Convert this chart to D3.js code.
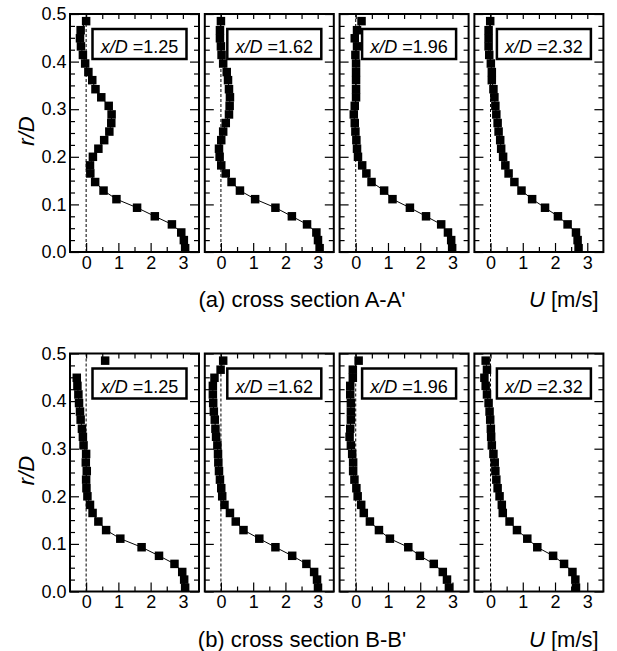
<!DOCTYPE html>
<html>
<head>
<meta charset="utf-8">
<script src="https://cdn.jsdelivr.net/npm/d3@7"></script>
<style>
  body { margin: 0; background: #fff; }
  svg { display: block; font-family: "Liberation Sans", Arial, sans-serif; }
</style>
</head>
<body>
<svg id="chart"></svg>
<script>
// radial measuring positions r/D (same grid in every panel)
const rPos = [0.485, 0.466, 0.449, 0.432, 0.414, 0.396, 0.378, 0.361, 0.342, 0.325,
  0.307, 0.289, 0.271, 0.253, 0.235, 0.217, 0.2, 0.182, 0.165, 0.147,
  0.129, 0.111, 0.093, 0.075, 0.058, 0.041, 0.025, 0.008];

// cross section A-A'
const uA1 = [0, -0.17, -0.19, -0.16, -0.1, -0.03, 0.07, 0.19, 0.29, 0.47, 0.7, 0.79, 0.78, 0.72,
  0.56, 0.38, 0.21, 0.12, 0.13, 0.28, 0.54, 0.94, 1.58, 2.13, 2.66, 2.95, 3.03, 3.07];
const uA2 = [0, -0.03, -0.03, 0, 0.02, 0.07, 0.18, 0.22, 0.25, 0.28, 0.27, 0.25, 0.15, 0.07,
  0.01, -0.06, -0.04, 0.01, 0.15, 0.33, 0.59, 1.06, 1.69, 2.2, 2.67, 2.96, 3.01, 3.06];
const uA3 = [0.18, 0.04, -0.03, 0.04, -0.01, 0.01, 0.01, 0.01, 0.01, 0.01, -0.03, -0.06, -0.03, -0.01,
  0.02, 0.04, 0.07, 0.2, 0.33, 0.49, 0.88, 1.14, 1.68, 2.18, 2.65, 2.86, 2.96, 2.99];
const uA4 = [-0.01, -0.06, -0.06, -0.06, -0.04, 0.01, 0.04, 0.04, 0.09, 0.12, 0.15, 0.18, 0.22, 0.25,
  0.3, 0.33, 0.39, 0.46, 0.56, 0.74, 0.96, 1.29, 1.69, 2.09, 2.39, 2.65, 2.7, 2.73];

// cross section B-B'
const uB1 = [0.59, null, -0.29, -0.27, -0.24, -0.22, -0.19, -0.17, -0.13, -0.1, -0.08, 0, -0.01, 0.02,
  0, 0.01, 0.04, 0.12, 0.2, 0.38, 0.62, 1.06, 1.72, 2.26, 2.74, 2.98, 3.04, 3.07];
const uB2 = [0.07, -0.01, -0.2, -0.25, -0.25, -0.24, -0.22, -0.19, -0.17, -0.15, -0.11, -0.09, -0.08, -0.06,
  -0.03, 0.01, 0.04, 0.11, 0.28, 0.46, 0.7, 1.19, 1.69, 2.21, 2.65, 2.89, 2.98, 3.01];
const uB3 = [0.09, -0.09, -0.09, -0.17, -0.17, -0.15, -0.15, -0.15, -0.17, -0.19, -0.15, -0.11, -0.08, -0.08,
  -0.04, 0.02, 0.06, 0.17, 0.25, 0.44, 0.72, 1.06, 1.63, 1.99, 2.42, 2.7, 2.83, 2.89];
const uB4 = [-0.15, -0.11, -0.19, -0.15, -0.11, -0.06, -0.03, -0.01, 0.01, 0.02, 0.04, 0.09, 0.13, 0.15,
  0.18, 0.22, 0.28, 0.35, 0.38, 0.59, 0.82, 1.14, 1.45, 1.94, 2.28, 2.54, 2.63, 2.65];

const xdLabels = ["1.25", "1.62", "1.96", "2.32"];
const captions = ["(a) cross section A-A'", "(b) cross section B-B'"];
const uTicks = [0, 1, 2, 3];
const uMinor = [0.5, 1.5, 2.5];
const uTop = [0, 0.5, 1, 1.5, 2, 2.5, 3];
const rTicks = [0, 0.1, 0.2, 0.3, 0.4, 0.5];

const rows = [[uA1, uA2, uA3, uA4], [uB1, uB2, uB3, uB4]];

var width = 617, height = 651;
var rowTop = [14, 353.5];
var pw = 129, ph = 238, step = 134.8, left0 = 70;

var svg = d3.select("#chart").attr("width", width).attr("height", height);

var x = d3.scaleLinear().domain([-0.5, 3.5]).range([0, pw]);
var y = d3.scaleLinear().domain([0, 0.5]).range([ph, 0]);

// minor r ticks every 0.025
var rMinor = d3.range(1, 20).filter(i => i % 4 != 0).map(i => i * 0.025);

const styleAxis = g => {
  g.select(".domain").remove();
  g.selectAll("line").attr("stroke", "#000").attr("stroke-width", 1.2);
  g.attr("font-size", 18).attr("font-family", null);
  g.selectAll("text").attr("fill", "#000");
};

rows.forEach((series, ri) => {
  var top = rowTop[ri];

  series.forEach((u, pi) => {
    var g = svg.append("g")
      .attr("transform", `translate(${left0 + pi * step},${top})`);
    var pts = rPos.map((r, i) => ({ r: r, u: u[i] }));

    // zero line
    g.append("line")
      .attr("x1", x(0)).attr("x2", x(0))
      .attr("y1", y(0)).attr("y2", y(0.5))
      .attr("stroke", "#000")
      .attr("stroke-width", 1)
      .attr("stroke-dasharray", "3,2");

    // axes (ticks inside the frame)
    g.append("g")
      .call(d3.axisLeft(y).tickValues(rTicks).tickSize(-9).tickPadding(3.5)
        .tickFormat(pi == 0 ? d3.format(".1f") : ""))
      .call(styleAxis);
    g.append("g")
      .call(d3.axisLeft(y).tickValues(rMinor).tickSize(-5).tickFormat(""))
      .call(styleAxis);
    g.append("g")
      .attr("transform", `translate(${pw},0)`)
      .call(d3.axisRight(y).tickValues(rTicks).tickSize(-9).tickFormat(""))
      .call(styleAxis);
    g.append("g")
      .attr("transform", `translate(${pw},0)`)
      .call(d3.axisRight(y).tickValues(rMinor).tickSize(-5).tickFormat(""))
      .call(styleAxis);
    g.append("g")
      .attr("transform", `translate(0,${ph})`)
      .call(d3.axisBottom(x).tickValues(uTicks).tickSize(-9).tickPadding(4)
        .tickFormat(d3.format("d")))
      .call(styleAxis);
    g.append("g")
      .attr("transform", `translate(0,${ph})`)
      .call(d3.axisBottom(x).tickValues(uMinor).tickSize(-5).tickFormat(""))
      .call(styleAxis);
    g.append("g")
      .call(d3.axisTop(x).tickValues(uTop).tickSize(-5).tickFormat(""))
      .call(styleAxis);

    // frame
    g.append("rect")
      .attr("width", pw).attr("height", ph)
      .attr("fill", "none")
      .attr("stroke", "#000")
      .attr("stroke-width", 2);

    // fitted line
    g.append("path")
      .datum(pts)
      .attr("fill", "none")
      .attr("stroke", "#000")
      .attr("stroke-width", 1)
      .attr("d", d3.line()
        .defined(d => d.u != null)
        .x(d => x(d.u))
        .y(d => y(d.r)));

    // markers
    var s = 8.5;
    g.selectAll("rect.pt")
      .data(pts.filter(d => d.u != null))
      .join("rect")
      .attr("class", "pt")
      .attr("x", d => x(d.u) - s / 2)
      .attr("y", d => y(d.r) - s / 2)
      .attr("width", s).attr("height", s)
      .attr("fill", "#000");

    // x/D label box
    g.append("rect")
      .attr("x", 22.5).attr("y", 15)
      .attr("width", 94).attr("height", 30)
      .attr("fill", "#fff")
      .attr("stroke", "#000")
      .attr("stroke-width", 2.5);
    var t = g.append("text")
      .attr("x", 69.5).attr("y", 39)
      .attr("text-anchor", "middle")
      .attr("font-size", 18);
    t.append("tspan").attr("font-style", "italic").text("x/D");
    t.append("tspan").text(" =" + xdLabels[pi]);
  });

  // r/D label
  svg.append("text")
    .attr("transform", `translate(34,${top + ph / 2 - 2}) rotate(-90)`)
    .attr("text-anchor", "middle")
    .attr("font-size", 22)
    .attr("font-style", "italic")
    .text("r/D");

  // caption
  svg.append("text")
    .attr("x", 302).attr("y", top + ph + 55)
    .attr("text-anchor", "middle")
    .attr("font-size", 22)
    .text(captions[ri]);

  var ul = svg.append("text")
    .attr("x", 529).attr("y", top + ph + 55)
    .attr("font-size", 22);
  ul.append("tspan").attr("font-style", "italic").text("U");
  ul.append("tspan").text(" [m/s]");
});
</script>
</body>
</html>
